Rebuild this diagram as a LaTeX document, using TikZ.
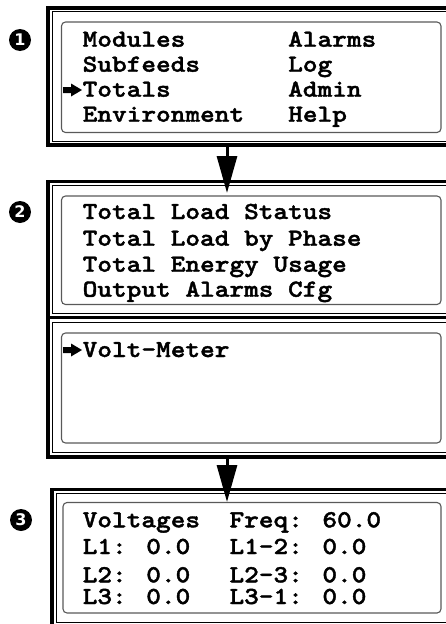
\documentclass[tikz,border=0pt]{standalone}
\usepackage{fontspec}
\newfontfamily\lcdfont{lmmonolt10-bold.otf}[FakeStretch=1.141,FakeBold=1.6]
\newfontfamily\numfont{DejaVu Sans}
\usetikzlibrary{arrows.meta}
\begin{document}
\begin{tikzpicture}[x=1pt,y=-1pt,
  outerframe/.style={line width=3.5pt},
  innerframe/.style={line width=1pt},
  lcd/.style={draw=black!65, line width=1.1pt, rounded corners=4pt},
  txt/.style={anchor=base west, inner sep=0pt, font=\lcdfont\fontsize{24.5}{24.5}\selectfont},
  arr/.style={line width=3pt, -{Triangle[length=37pt,width=20pt]}},
  num/.style={circle, fill=black, text=white, inner sep=0pt, minimum size=22pt, font=\numfont\bfseries\fontsize{16}{16}\selectfont},
  pointer/.pic={\fill (-19,-3) -- (-11,-3) -- (-11,-6.5) -- (0,0) -- (-11,6.5) -- (-11,3) -- (-19,3) -- cycle;}
]
\useasboundingbox (0,0) rectangle (446,624);
\clip (0,0) rectangle (446,624);

% frame 1
\draw[outerframe] (48,8) rectangle (480,145);
\draw[innerframe] (52.5,11.8) rectangle (476,141.5);
\draw[lcd] (61.5,22) rectangle (441,132.5);
\node[num] (n1) at (20,40) {1};
\node[txt] (t11) at (82.5,46.7) {Modules};
\node[txt] (t12) at (82.5,71.7) {Subfeeds};
\node[txt] (t13) at (82.5,96.7) {Totals};
\node[txt] (t14) at (82.5,121.7) {Environment};
\node[txt] (t15) at (288,46.7) {Alarms};
\node[txt] (t16) at (288,71.7) {Log};
\node[txt] (t17) at (288,96.7) {Admin};
\node[txt] (t18) at (288,121.7) {Help};
\pic at (82,90) {pointer};

% frame 2
\draw[outerframe] (48,181.5) rectangle (480,457);
\draw[outerframe] (48,317.5) -- (480,317.5);
\draw[innerframe] (52.5,185) rectangle (476,313.5);
\draw[innerframe] (52.5,322.5) rectangle (476,452.5);
\draw[lcd] (61.5,196) rectangle (441,304.5);
\draw[lcd] (61.5,333) rectangle (441,443);
\node[num] (n2) at (20,212) {2};
\node[txt] (t21) at (82.5,219) {Total Load Status};
\node[txt] (t22) at (82.5,245.7) {Total Load by Phase};
\node[txt] (t23) at (82.5,271.7) {Total Energy Usage};
\node[txt] (t24) at (82.5,296.7) {Output Alarms Cfg};
\node[txt] (t25) at (82.5,357) {Volt-Meter};
\pic at (82,350) {pointer};

% frame 3
\draw[outerframe] (52,489.5) rectangle (480,626);
\draw[innerframe] (56,493.5) rectangle (476,622);
\draw[lcd] (63,502.5) rectangle (441,613);
\node[num] (n3) at (21,520) {3};
\node[txt] (t31) at (82.5,527.3) {Voltages};
\node[txt] (t32) at (82.5,554) {L1: 0.0};
\node[txt] (t33) at (82.5,582.3) {L2: 0.0};
\node[txt] (t34) at (82.5,604) {L3: 0.0};
\node[txt] (t35) at (229.3,527.3) {Freq: 60.0};
\node[txt] (t36) at (229.3,554) {L1-2: 0.0};
\node[txt] (t37) at (229.3,582.3) {L2-3: 0.0};
\node[txt] (t38) at (229.3,604) {L3-1: 0.0};

% arrows
\coordinate (a1s) at (227,145);
\coordinate (a1e) at (227,193);
\coordinate (a2s) at (227,457);
\coordinate (a2e) at (227,502);
\draw[arr] (a1s) -- (a1e);
\draw[arr] (a2s) -- (a2e);
\end{tikzpicture}
\end{document}
